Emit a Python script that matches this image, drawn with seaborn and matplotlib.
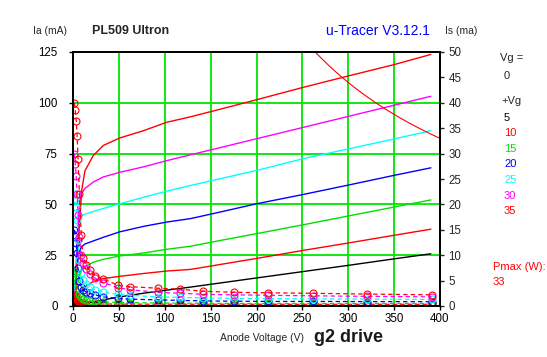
import numpy as np
import pandas as pd
import matplotlib
matplotlib.use("Agg")
import matplotlib.pyplot as plt
import seaborn as sns

# ---------------- data ----------------
# anode current curves (solid, left axis, mA)
va_ia = [0, 3, 5, 7.6, 9.5, 13, 22, 33, 51, 77, 102, 128, 160, 200, 250, 300, 350, 390]
ia_vg5 = [0, 0.5, 0.8, 1.0, 1.2, 1.5, 2.0, 3.0, 4.5, 6.3, 7.8, 9.3, 11.3, 13.8, 16.9, 20.0, 23.2, 25.7]
ia_vg10 = [0, 3, 5, 7, 8, 9.5, 12, 13.5, 14.6, 16, 17.2, 18, 20.4, 23.4, 27.3, 31, 34.8, 37.8]
ia_vg15 = [0, 6, 11, 15.5, 17.6, 19.3, 21.5, 23, 24.6, 26.1, 27.9, 29.4, 32.2, 35.6, 39.9, 44.3, 48.7, 52.2]
ia_vg20 = [0, 12, 22, 27.5, 29.2, 30.5, 32, 33.8, 36.5, 39.2, 41.3, 43, 46.2, 50.3, 54.8, 59.5, 64.3, 68]
ia_vg25 = [0, 18, 36, 43.8, 44.5, 45.2, 46.5, 48, 50.3, 53.5, 56.5, 59.3, 62.6, 66.7, 72.4, 77.3, 82.2, 86.3]
ia_vg30 = [0, 10, 38, 52, 55.4, 57.8, 61, 63.5, 65.8, 68.5, 71.5, 74.4, 77.9, 82.3, 87.8, 93.3, 98.8, 103.2]
ia_vg35 = [0, 6, 25, 44, 57, 66.5, 74, 79, 82.7, 86.3, 90.4, 93.1, 96.8, 101.5, 107.5, 113.2, 118.8, 123.8]

# screen current curves (dashed with markers, right axis, mA)
va_is = [1.5, 2.5, 3.5, 4.5, 5.5, 7, 9, 11, 14, 18, 24, 33, 49, 62, 93, 117, 142, 175, 213, 262, 320, 391]
is_vg5 = [0.5, 0.4, 0.3, 0.25, 0.2, 0.16, 0.14, 0.13, 0.12, 0.12, 0.11, 0.11, 0.1, 0.1, 0.1, 0.1, 0.1, 0.1, 0.1, 0.1, 0.1, 0.1]
is_vg10 = [2.2, 2.0, 1.7, 1.3, 1.0, 0.75, 0.6, 0.52, 0.47, 0.44, 0.41, 0.39, 0.37, 0.36, 0.35, 0.35, 0.34, 0.34, 0.33, 0.33, 0.33, 0.33]
is_vg15 = [7, 6.5, 5.8, 4.8, 3.5, 2.3, 1.7, 1.4, 1.15, 1.0, 0.9, 0.8, 0.7, 0.65, 0.6, 0.55, 0.55, 0.5, 0.5, 0.5, 0.5, 0.5]
is_vg20 = [15, 14, 12.5, 10.5, 7.5, 5, 3.8, 3.2, 2.8, 2.5, 2.2, 1.8, 1.5, 1.35, 1.2, 1.1, 1.0, 0.95, 0.9, 0.9, 0.87, 0.85]
is_vg25 = [22, 21, 19.5, 17, 13, 9, 6.5, 5.2, 4.4, 3.8, 3.2, 2.7, 2.3, 2.1, 1.8, 1.7, 1.6, 1.5, 1.45, 1.4, 1.35, 1.3]
is_vg30 = [30, 28, 25.5, 22, 18, 13.5, 10, 8.5, 7.2, 6.3, 5.5, 4.6, 3.6, 3.2, 2.7, 2.5, 2.3, 2.2, 2.1, 2.0, 1.9, 1.8]
is_vg35 = [40, 38.5, 36.5, 33.5, 29, 22, 14, 9.5, 8, 7, 6, 5.3, 4.1, 3.8, 3.5, 3.3, 2.9, 2.7, 2.6, 2.5, 2.35, 2.2]

vg_steps = ["5", "10", "15", "20", "25", "30", "35"]
step_colors = ["#000000", "#ff0000", "#00e000", "#0000ff", "#00ffff", "#ff00ff", "#ff0000"]
pmax_w = 33

x_ticks = [0, 50, 100, 150, 200, 250, 300, 350, 400]
ia_ticks = [0, 25, 50, 75, 100, 125]
is_ticks = [0, 5, 10, 15, 20, 25, 30, 35, 40, 45, 50]

ia_all = [ia_vg5, ia_vg10, ia_vg15, ia_vg20, ia_vg25, ia_vg30, ia_vg35]
is_all = [is_vg5, is_vg10, is_vg15, is_vg20, is_vg25, is_vg30, is_vg35]

df_ia = pd.concat([pd.DataFrame({"Va": va_ia, "I": v, "Vg": g}) for v, g in zip(ia_all, vg_steps)])
df_is = pd.concat([pd.DataFrame({"Va": va_is, "I": v, "Vg": g}) for v, g in zip(is_all, vg_steps)])

# ---------------- figure ----------------
sns.set_style("white")
plt.rcParams["font.family"] = ["Liberation Sans", "DejaVu Sans"]

W, H = 547, 357
fig = plt.figure(figsize=(W / 100, H / 100), dpi=100)
L, R, T, B = 73, 440, 52, 306
ax = fig.add_axes([L / W, 1 - B / H, (R - L) / W, (B - T) / H])
ax2 = ax.twinx()

grid_green = "#00e600"
for xv in x_ticks[1:-1]:
    ax.axvline(xv, color=grid_green, lw=1.3, zorder=0)
for yv in ia_ticks[1:-1]:
    ax.axhline(yv, color=grid_green, lw=1.3, zorder=0)

# screen currents (right axis)
for g, c in zip(vg_steps, step_colors):
    sub = df_is[df_is["Vg"] == g]
    sns.lineplot(data=sub, x="Va", y="I", ax=ax2, color=c, lw=0.9,
                 linestyle=(0, (3.5, 2.5)), marker="o", markersize=5,
                 markerfacecolor="none", markeredgecolor=c, markeredgewidth=0.8,
                 estimator=None, sort=False, legend=False)

# anode currents (left axis)
for g, c in zip(vg_steps, step_colors):
    sub = df_ia[df_ia["Vg"] == g]
    sns.lineplot(data=sub, x="Va", y="I", ax=ax, color=c, lw=1.0,
                 estimator=None, sort=False, legend=False)

# Pmax hyperbola
v_p = np.linspace(pmax_w * 1000 / 125, 400, 200)
sns.lineplot(x=v_p, y=pmax_w * 1000 / v_p, ax=ax, color="#ff0000", lw=0.8,
             estimator=None, sort=False, legend=False)

ax.set_xlim(0, 400)
ax.set_ylim(0, 125)
ax2.set_ylim(0, 50)
ax.set_xticks(x_ticks)
ax.set_yticks(ia_ticks)
ax2.set_yticks(is_ticks)
ax.set_xlabel("")
ax.set_ylabel("")
ax2.set_xlabel("")
ax2.set_ylabel("")
fs = 8.3
ax.tick_params(axis="both", direction="out", length=3, width=1, labelsize=fs, pad=2,
               left=True, bottom=True, colors="black")
ax.tick_params(axis="y", pad=8)
ax2.tick_params(axis="y", direction="out", length=3, width=1, labelsize=fs, pad=3, right=True)
for a in (ax, ax2):
    for s in a.spines.values():
        s.set_visible(True)
        s.set_color("black")
        s.set_linewidth(1.3)
ax2.set_zorder(ax.get_zorder() + 1)
ax2.patch.set_visible(False)


def ftext(x, y, s, **kw):
    fig.text(x / W, 1 - y / H, s, **kw)


ftext(50, 31, "Ia (mA)", fontsize=7.5, ha="center", va="center")
ftext(92, 31, "PL509 Ultron", fontsize=9, fontweight="bold", ha="left", va="center")
ftext(378, 31, "u-Tracer V3.12.1", fontsize=10, color="#0000ff", ha="center", va="center")
ftext(461, 31, "Is (ma)", fontsize=7.5, ha="center", va="center")
ftext(262, 338, "Anode Voltage (V)", fontsize=7.5, ha="center", va="center")
ftext(314, 338, "g2 drive", fontsize=13, fontweight="bold", color="#1a1a1a", ha="left", va="center")

ftext(500, 58, "Vg =", fontsize=8, ha="left", va="center")
ftext(504, 76, "0", fontsize=8, ha="left", va="center")
ftext(501, 101, "+Vg", fontsize=8, ha="left", va="center")
for i, (g, c) in enumerate(zip(vg_steps, step_colors)):
    ftext(504, 118 + i * 15.5, g, fontsize=8, color=c, ha="left", va="center")
ftext(493, 267, "Pmax (W):", fontsize=8, color="#ff0000", ha="left", va="center")
ftext(493, 282, str(pmax_w), fontsize=8, color="#ff0000", ha="left", va="center")

fig.savefig("out.png", dpi=100, facecolor="white")
